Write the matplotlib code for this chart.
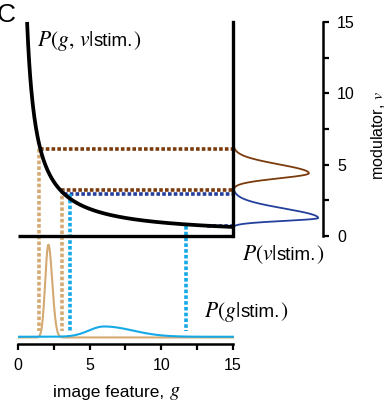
import numpy as np
import matplotlib
matplotlib.use('Agg')
import matplotlib.pyplot as plt
from matplotlib.offsetbox import TextArea, HPacker, AnnotationBbox

plt.rcParams['font.family'] = ['Liberation Sans', 'DejaVu Sans']
plt.rcParams['mathtext.fontset'] = 'stix'

# ---------------- data ----------------
hyperbola_k = 9.5                      # curve: g * v = k
g_ticks = [0, 2.5, 5, 7.5, 10, 12.5, 15]
g_ticklabels = ['0', '', '5', '', '10', '', '15']
v_ticks = [0, 2.5, 5, 7.5, 10, 12.5, 15]
v_ticklabels = ['0', '', '5', '', '10', '', '15']

# projection points (g, v) for the two stimuli
brown_pts = [(1.45, 6.1), (3.1, 3.2)]     # stim 1: horizontal brown, vertical tan
blue_pts = [(3.6, 2.94), (11.7, 0.72)]    # stim 2: horizontal navy, vertical sky

# marginals as split-normal shapes: (mode, sd_low, sd_high, peak height)
pv_brown = (4.4, 0.36, 0.62, 5.3)
pv_blue = (1.26, 0.2, 0.66, 5.95)
pg_tan = (2.12, 0.22, 0.27, 6.5)
pg_sky = (6.0, 1.05, 2.0, 0.72)

c_brown = '#7b3b0c'
c_tan = '#d4aa72'
c_navy = '#243f9c'
c_sky = '#15a9e8'

# ---------------- layout helpers (pixels) ----------------
W, H = 391, 407
X0, SX = 18.0, 14.33     # g=0 pixel, px per unit
Y0, SY = 236.0, 14.27    # v=0 pixel, px per unit
G_MAX = 22.0
V_MIN, V_MAX = -7.55, 15.3
V_BASE = -7.06           # baseline of P(g|stim.)
V_DOT_END = -6.65        # end of vertical dotted lines


def split_normal(x, mode, slo, shi, peak):
    s = np.where(x < mode, slo, shi)
    return peak * np.exp(-0.5 * ((x - mode) / s) ** 2)


def mixed_label(artist_parent, pieces, xy, align, coords='data'):
    areas = [TextArea(s, textprops=dict(fontsize=fs)) for s, fs in pieces]
    pack = HPacker(children=areas, align='baseline', pad=0, sep=0)
    ab = AnnotationBbox(pack, xy, xycoords=coords, frameon=False,
                        box_alignment=align, pad=0, annotation_clip=False)
    artist_parent.add_artist(ab)


fig = plt.figure(figsize=(W / 100, H / 100), dpi=100)
left = X0 / W
right = (X0 + G_MAX * SX) / W
bottom = 1 - (Y0 - V_MIN * SY) / H
top = 1 - (Y0 - V_MAX * SY) / H
ax = fig.add_axes([left, bottom, right - left, top - bottom])
ax.set_xlim(0, G_MAX)
ax.set_ylim(V_MIN, V_MAX)
ax.patch.set_alpha(0)

# spines
for s in ['top', 'left']:
    ax.spines[s].set_visible(False)
ax.spines['bottom'].set_bounds(0, 15)
ax.spines['bottom'].set_linewidth(1.8)
ax.spines['right'].set_position(('data', 21.3))
ax.spines['right'].set_bounds(0, 15)
ax.spines['right'].set_linewidth(1.8)
ax.yaxis.tick_right()
ax.set_xticks(g_ticks)
ax.set_xticklabels(g_ticklabels)
ax.set_yticks(v_ticks)
ax.set_yticklabels(v_ticklabels)
ax.tick_params(axis='both', direction='out', length=4.5, width=1.6,
               labelsize=11.5, pad=5.5)

dot = (0, (1.0, 0.6))
lw_dot = 2.6

# dotted projections
for g, v in brown_pts:
    g_curve = hyperbola_k / v
    ax.plot([g_curve, 15], [v, v], color=c_brown, lw=lw_dot, ls=dot,
            dash_capstyle='butt', zorder=2)
    ax.plot([g, g], [v, V_DOT_END], color=c_tan, lw=lw_dot, ls=dot,
            dash_capstyle='butt', zorder=2)
for g, v in blue_pts:
    g_curve = hyperbola_k / v
    ax.plot([g_curve, 15], [v, v], color=c_navy, lw=lw_dot, ls=dot,
            dash_capstyle='butt', zorder=2)
    ax.plot([g, g], [v, V_DOT_END], color=c_sky, lw=lw_dot, ls=dot,
            dash_capstyle='butt', zorder=2)

# hyperbola
gg = np.linspace(hyperbola_k / 15, 15, 400)
ax.plot(gg, hyperbola_k / gg, color='black', lw=2.7, zorder=4,
        solid_capstyle='butt', clip_on=False)
# box lines
ax.plot([0, 15], [0, 0], color='black', lw=2.4, zorder=4,
        solid_capstyle='butt')
ax.plot([15, 15], [0, 15], color='black', lw=2.4, zorder=4,
        solid_capstyle='projecting', clip_on=False)

# right marginals P(v|stim.)
vv = np.linspace(0, 15, 800)
pb = split_normal(vv, *pv_brown)
ax.plot(15 + pb, vv, color=c_brown, lw=1.3, zorder=3)
pn = split_normal(vv, *pv_blue)
ax.plot(15 + pn, vv, color=c_navy, lw=1.3, zorder=3)

# bottom marginals P(g|stim.)
gx = np.linspace(0, 15, 800)
ax.plot(gx, V_BASE - 0.05 + split_normal(gx, *pg_tan), color=c_tan,
        lw=1.5, zorder=3)
ax.plot(gx, V_BASE + split_normal(gx, *pg_sky), color=c_sky,
        lw=1.5, zorder=3)

# texts
FM, FS = 15.5, 13.5
mixed_label(ax, [(r'$P(g,\,v|$', FM), ('stim.', FS), (r'$)$', FM)],
            ((37 - X0) / SX, (Y0 - 41) / SY), (0, 0.5))
mixed_label(ax, [(r'$P(v|$', FM), ('stim.', FS), (r'$)$', FM)],
            ((283 - X0) / SX, (Y0 - 255) / SY), (0.5, 0.5))
mixed_label(ax, [(r'$P(g|$', FM), ('stim.', FS), (r'$)$', FM)],
            ((246 - X0) / SX, (Y0 - 312) / SY), (0.5, 0.5))

mixed_label(fig, [('image feature, ', 12.5), (r'$g$', 14.5)],
            (117 / W, 1 - 392 / H), (0.5, 0.5), coords='figure fraction')
fig.text(378 / W, 1 - 136 / H, r'modulator, $v$', ha='center',
         va='center', rotation=90, fontsize=11.5)
fig.text(-3 / W, 1 - 22 / H, 'C', ha='left', va='baseline', fontsize=19)

fig.savefig('out.png', dpi=100)
